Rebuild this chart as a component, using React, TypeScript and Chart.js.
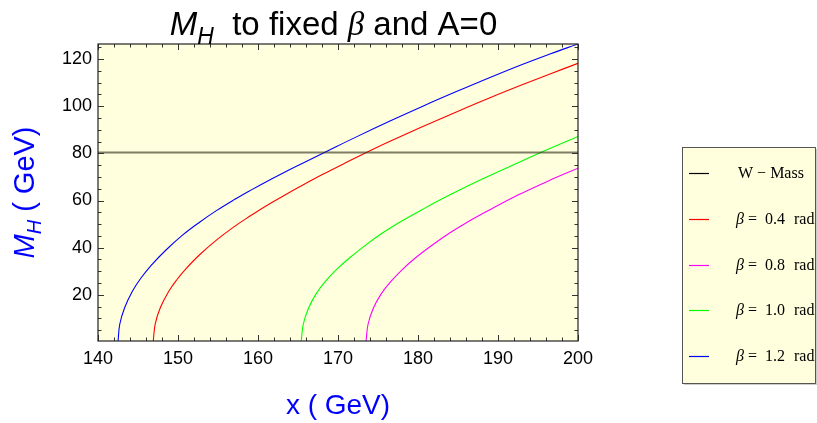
import React, { useEffect, useRef } from "react";
import { Chart, registerables } from "chart.js";

Chart.register(...registerables);

// ---------- data ----------
const xTicks = [140, 150, 160, 170, 180, 190, 200];
const yTicks = [20, 40, 60, 80, 100, 120];
const xRange = [140, 200];
const yRange = [0.4, 126.4];
const xMinorStep = 2;
const yMinorStep = 5;

const wMass = 80.4;

// beta = 0.4 rad (red)
const beta04X = [146.9, 147.15, 147.8, 148.85, 149.9, 150.9, 152.7, 154.8, 156.9, 159.0, 161.0, 163.1, 165.2, 168.1, 171.0, 174.0, 176.5, 180.6, 184.8, 189.0, 193.1, 196.5, 200];
const beta04Y = [0, 7.6, 14.6, 21.5, 26.6, 30.7, 37, 43.2, 48.6, 53.4, 57.7, 61.8, 65.8, 71.1, 76.1, 81.1, 85.1, 91.4, 97.6, 103.6, 109.2, 113.7, 118.2];

// beta = 0.8 rad (magenta)
const beta08X = [173.5, 173.75, 174.4, 175.4, 176.65, 178.1, 179.7, 181.75, 183.9, 186.0, 189.0, 192.5, 196.3, 200];
const beta08Y = [0, 7.4, 14.2, 20.4, 25.8, 30.9, 35.7, 41.0, 46.1, 50.5, 56.1, 62.3, 68.3, 73.7];

// beta = 1.0 rad (green)
const beta10X = [165.4, 165.65, 166.3, 167.3, 168.5, 169.9, 171.35, 173.45, 175.5, 177.6, 180.6, 184.0, 188.1, 192.3, 195.2, 200];
const beta10Y = [0, 7.4, 14.2, 20.6, 26.0, 31.0, 35.4, 41.1, 46.1, 50.6, 56.3, 62.4, 69.2, 75.7, 80.2, 87.2];

// beta = 1.2 rad (blue)
const beta12X = [142.5, 142.72, 143.33, 144.3, 145.35, 146.65, 148.5, 150.6, 152.7, 154.8, 157.0, 159.0, 161.1, 163.2, 165.2, 168.5, 172.3, 176.5, 180.6, 184.8, 189.0, 193.1, 196.5, 200];
const beta12Y = [0, 7.5, 14.5, 21.5, 27, 32.5, 39, 45.4, 50.8, 55.7, 60.3, 64.2, 68.1, 71.8, 75.2, 80.7, 87.0, 93.7, 100.0, 106.2, 112.2, 117.8, 122.2, 126.4];

const betaLabels = ["0.4", "0.8", "1.0", "1.2"];
const wMassLabel = "W \u2212 Mass";

// ---------- styles ----------
const SANS = '"Liberation Sans", Arial, sans-serif';
const SERIF = '"Liberation Serif", "Times New Roman", serif';
const PLOT_BG = "rgb(255,255,221)";
const AXIS_BLUE = "#0000ff";
const W_COLOR = "rgba(40,40,20,0.6)";
const RED = "#ff0000";
const MAGENTA = "#ff00ff";
const GREEN = "#00ff00";
const BLUE = "#0000ff";

const zip = (xs: number[], ys: number[]) => xs.map((x, i) => ({ x, y: ys[i] }));

type Seg = { t: string; font: string; dy?: number };

function segsWidth(ctx: CanvasRenderingContext2D, segs: Seg[]) {
  let w = 0;
  for (const s of segs) {
    ctx.font = s.font;
    w += ctx.measureText(s.t).width;
  }
  return w;
}

function drawSegs(ctx: CanvasRenderingContext2D, segs: Seg[], x: number, y: number) {
  let cx = x;
  for (const s of segs) {
    ctx.font = s.font;
    ctx.fillText(s.t, cx, y + (s.dy || 0));
    cx += ctx.measureText(s.t).width;
  }
}

const decorPlugin = {
  id: "decor",
  beforeDraw(chart: any) {
    const { ctx, chartArea: a } = chart;
    ctx.save();
    ctx.fillStyle = "#ffffff";
    ctx.fillRect(0, 0, chart.width, chart.height);
    ctx.fillStyle = PLOT_BG;
    ctx.fillRect(a.left, a.top, a.right - a.left, a.bottom - a.top);
    ctx.restore();
  },
  afterDatasetsDraw(chart: any) {
    const { ctx, chartArea: a, scales } = chart;
    const xs = scales.x;
    const ys = scales.y;
    ctx.save();
    ctx.strokeStyle = "#333";
    ctx.lineWidth = 1;
    ctx.beginPath();
    for (let v = xRange[0]; v <= xRange[1] + 1e-6; v += xMinorStep) {
      const px = Math.round(xs.getPixelForValue(v)) + 0.5;
      const len = Math.abs(v % 10) < 1e-6 ? 6 : 3.5;
      ctx.moveTo(px, a.bottom);
      ctx.lineTo(px, a.bottom - len);
      ctx.moveTo(px, a.top);
      ctx.lineTo(px, a.top + len);
    }
    for (let v = yMinorStep; v <= yRange[1]; v += yMinorStep) {
      const py = Math.round(ys.getPixelForValue(v)) + 0.5;
      const len = Math.abs(v % 20) < 1e-6 ? 6 : 3.5;
      ctx.moveTo(a.left, py);
      ctx.lineTo(a.left + len, py);
      ctx.moveTo(a.right, py);
      ctx.lineTo(a.right - len, py);
    }
    ctx.stroke();
    ctx.strokeStyle = "#222";
    ctx.lineWidth = 1.2;
    ctx.strokeRect(a.left, a.top, a.right - a.left, a.bottom - a.top);
    ctx.restore();
  },
  afterDraw(chart: any) {
    const { ctx, chartArea: a } = chart;
    ctx.save();
    ctx.textBaseline = "alphabetic";
    ctx.textAlign = "left";

    // title
    ctx.fillStyle = "#000";
    const title: Seg[] = [
      { t: "M", font: `italic 33px ${SANS}` },
      { t: "H", font: `italic 23px ${SANS}`, dy: 9 },
      { t: "  to fixed ", font: `33px ${SANS}` },
      { t: "\u03b2", font: `italic 33px ${SERIF}` },
      { t: " and A=0", font: `33px ${SANS}` },
    ];
    const tw = segsWidth(ctx, title);
    drawSegs(ctx, title, 333.5 - tw / 2, 35);

    // x label
    ctx.fillStyle = AXIS_BLUE;
    const xl: Seg[] = [{ t: "x ( GeV)", font: `28px ${SANS}` }];
    const xw = segsWidth(ctx, xl);
    drawSegs(ctx, xl, (a.left + a.right) / 2 - xw / 2, 414);

    // y label
    const yl: Seg[] = [
      { t: "M", font: `italic 29px ${SANS}` },
      { t: "H", font: `italic 20px ${SANS}`, dy: 7 },
      { t: " ( GeV)", font: `29px ${SANS}` },
    ];
    const yw = segsWidth(ctx, yl);
    ctx.save();
    ctx.translate(34, (a.top + a.bottom) / 2);
    ctx.rotate(-Math.PI / 2);
    drawSegs(ctx, yl, -yw / 2, 0);
    ctx.restore();

    // legend
    const bx = 682, by = 147, bw = 133, bh = 236;
    ctx.fillStyle = "rgba(0,0,0,0.2)";
    ctx.fillRect(bx + 2, by + 2, bw, bh);
    ctx.fillStyle = PLOT_BG;
    ctx.fillRect(bx, by, bw, bh);
    ctx.strokeStyle = "#555";
    ctx.lineWidth = 1;
    ctx.strokeRect(bx + 0.5, by + 0.5, bw, bh);

    ctx.beginPath();
    ctx.rect(bx + 1, by + 1, bw - 1, bh - 1);
    ctx.clip();

    const entries = [
      { color: "#000000", label: null as string | null },
      { color: RED, label: betaLabels[0] },
      { color: MAGENTA, label: betaLabels[1] },
      { color: GREEN, label: betaLabels[2] },
      { color: BLUE, label: betaLabels[3] },
    ];
    const rowY = [173, 219, 264.5, 310, 356];
    entries.forEach((e, i) => {
      const y = rowY[i];
      ctx.strokeStyle = e.color;
      ctx.lineWidth = 1.2;
      ctx.beginPath();
      ctx.moveTo(689, Math.round(y) + 0.5);
      ctx.lineTo(709, Math.round(y) + 0.5);
      ctx.stroke();
      ctx.fillStyle = "#000";
      ctx.textBaseline = "middle";
      if (e.label === null) {
        ctx.font = `16px ${SERIF}`;
        ctx.fillText(wMassLabel, 738, y + 1);
      } else {
        ctx.font = `italic 16px ${SERIF}`;
        ctx.fillText("\u03b2", 736, y + 1);
        ctx.font = `16px ${SERIF}`;
        ctx.fillText("=", 748, y + 1);
        ctx.fillText(e.label, 765, y + 1);
        ctx.fillText("rad", 794, y + 1);
      }
    });
    ctx.restore();
  },
};

export default function App() {
  const ref = useRef<HTMLCanvasElement | null>(null);

  useEffect(() => {
    if (!ref.current) return;
    const common = {
      pointRadius: 0,
      pointHoverRadius: 0,
      borderWidth: 1.1,
      fill: false,
      tension: 0.4,
    };
    const chart = new Chart(ref.current, {
      type: "line",
      data: {
        datasets: [
          { ...common, label: wMassLabel, data: zip(xRange, [wMass, wMass]), borderColor: W_COLOR, borderWidth: 2, tension: 0 },
          { ...common, label: "beta 0.4", data: zip(beta04X, beta04Y), borderColor: RED },
          { ...common, label: "beta 0.8", data: zip(beta08X, beta08Y), borderColor: MAGENTA },
          { ...common, label: "beta 1.0", data: zip(beta10X, beta10Y), borderColor: GREEN },
          { ...common, label: "beta 1.2", data: zip(beta12X, beta12Y), borderColor: BLUE },
        ],
      },
      options: {
        responsive: false,
        animation: false,
        devicePixelRatio: 1,
        layout: { padding: { left: 0, right: 239, top: 44, bottom: 0 } },
        plugins: {
          legend: { display: false },
          title: { display: false },
          tooltip: { enabled: false },
        },
        scales: {
          x: {
            type: "linear",
            min: xRange[0],
            max: xRange[1],
            grid: { display: false, drawTicks: false },
            border: { display: false },
            afterBuildTicks: (s: any) => {
              s.ticks = xTicks.map((v) => ({ value: v }));
            },
            afterFit: (s: any) => {
              s.height = 82;
            },
            ticks: {
              color: "#000",
              font: { family: SANS, size: 18 },
              padding: 7,
              maxRotation: 0,
              autoSkip: false,
            },
          },
          y: {
            type: "linear",
            min: yRange[0],
            max: yRange[1],
            grid: { display: false, drawTicks: false },
            border: { display: false },
            afterBuildTicks: (s: any) => {
              s.ticks = yTicks.map((v) => ({ value: v }));
            },
            afterFit: (s: any) => {
              s.width = 98;
            },
            ticks: {
              color: "#000",
              font: { family: SANS, size: 18 },
              padding: 6,
              autoSkip: false,
            },
          },
        },
      },
      plugins: [decorPlugin],
    });
    return () => chart.destroy();
  }, []);

  return (
    <canvas
      ref={ref}
      width={817}
      height={423}
      style={{ position: "fixed", left: 0, top: 0, width: 817, height: 423 }}
    />
  );
}
